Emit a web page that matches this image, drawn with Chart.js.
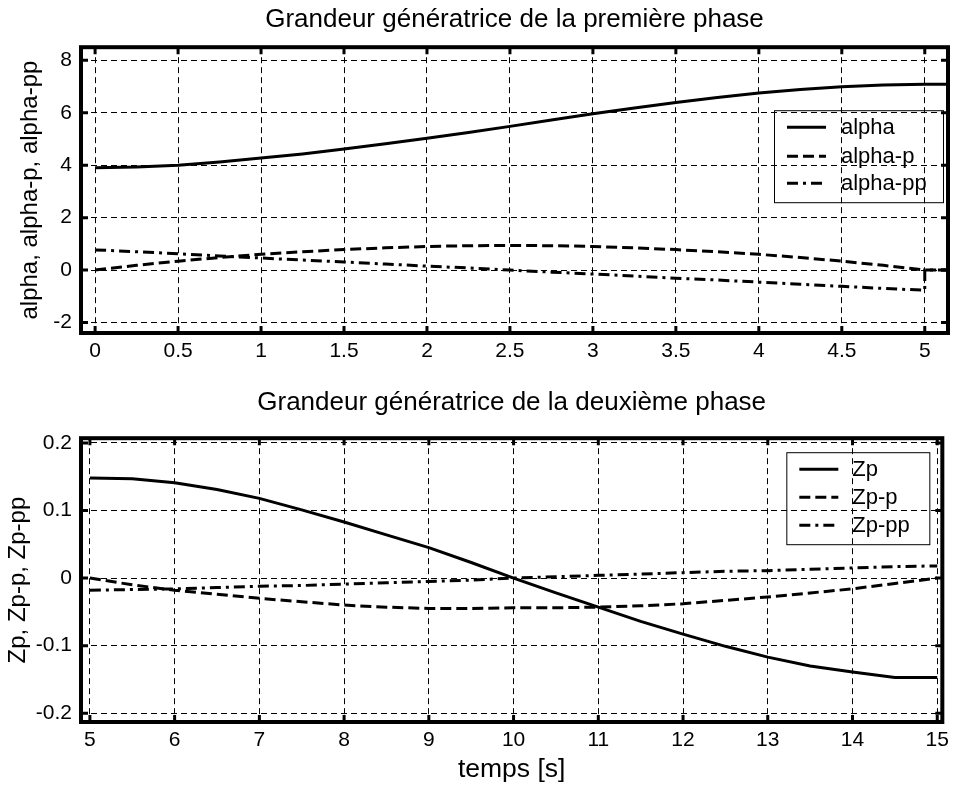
<!DOCTYPE html>
<html>
<head>
<meta charset="utf-8">
<script src="https://cdn.jsdelivr.net/npm/chart.js@4.4.0/dist/chart.umd.min.js"></script>
<style>
  html, body { margin: 0; padding: 0; background: #fff; }
  canvas { position: absolute; left: 0; }
  #c1 { top: 0; }
  #c2 { top: 375px; }
</style>
</head>
<body>
<canvas id="c1" width="955" height="375"></canvas>
<canvas id="c2" width="955" height="414"></canvas>
<script>
// premiere phase
const t1 = [0, 0.25, 0.5, 0.75, 1, 1.25, 1.5, 1.75, 2, 2.25, 2.5, 2.75, 3, 3.25, 3.5, 3.75, 4, 4.25, 4.5, 4.75, 5, 5, 5.2];
const alpha = [3.9, 3.93, 4.0, 4.12, 4.27, 4.43, 4.62, 4.82, 5.03, 5.25, 5.48, 5.72, 5.96, 6.18, 6.39, 6.58, 6.75, 6.89, 6.99, 7.06, 7.09, 7.09, 7.09];
const alphaP = [0.0, 0.18, 0.34, 0.48, 0.6, 0.7, 0.78, 0.85, 0.9, 0.93, 0.94, 0.93, 0.9, 0.85, 0.78, 0.7, 0.6, 0.48, 0.34, 0.18, 0.0, 0.0, 0.0];
const alphaPP = [0.77, 0.7, 0.62, 0.54, 0.46, 0.38, 0.31, 0.23, 0.15, 0.08, 0.0, -0.08, -0.15, -0.23, -0.31, -0.38, -0.46, -0.54, -0.62, -0.7, -0.77, 0.0, 0.0];

// deuxieme phase
const t2 = [5, 5.5, 6, 6.5, 7, 7.5, 8, 8.5, 9, 9.5, 10, 10.5, 11, 11.5, 12, 12.5, 13, 13.5, 14, 14.5, 15];
const zp = [0.148, 0.147, 0.141, 0.131, 0.118, 0.101, 0.083, 0.064, 0.045, 0.023, 0.0, -0.022, -0.043, -0.064, -0.083, -0.101, -0.117, -0.13, -0.139, -0.147, -0.147];
const zpP = [0.0, -0.01, -0.018, -0.024, -0.03, -0.035, -0.04, -0.043, -0.045, -0.045, -0.044, -0.044, -0.043, -0.041, -0.038, -0.033, -0.028, -0.022, -0.016, -0.008, 0.0];
const zpPP = [-0.018, -0.017, -0.016, -0.014, -0.012, -0.011, -0.009, -0.007, -0.005, -0.003, 0.0, 0.002, 0.004, 0.006, 0.008, 0.01, 0.011, 0.013, 0.015, 0.017, 0.018];

const xTicks1 = [0, 0.5, 1, 1.5, 2, 2.5, 3, 3.5, 4, 4.5, 5];
const yTicks1 = [-2, 0, 2, 4, 6, 8];
const xTicks2 = [5, 6, 7, 8, 9, 10, 11, 12, 13, 14, 15];
const yTicks2 = [-0.2, -0.1, 0, 0.1, 0.2];

const FONT = "'Liberation Sans', Arial, sans-serif";
const SOLID = [], DASH = [11, 5], DASHDOT = [11, 5, 3, 5];

function pts(xs, ys) { return xs.map((x, i) => ({ x: x, y: ys[i] })); }

function series(label, xs, ys, dash) {
  return {
    label: label, data: pts(xs, ys),
    borderColor: '#000', borderWidth: 3, borderDash: dash,
    pointRadius: 0, fill: false, tension: 0
  };
}

// cadre, graduations internes et legende
const frame = {
  id: 'frame',
  afterDatasetsDraw(chart, args, o) {
    const { ctx, chartArea: a, scales: { x, y } } = chart;
    ctx.save();
    ctx.strokeStyle = '#000';
    ctx.lineWidth = 3;
    ctx.setLineDash([]);
    ctx.beginPath();
    x.ticks.forEach(t => {
      const p = x.getPixelForValue(t.value);
      ctx.moveTo(p, a.top); ctx.lineTo(p, a.top + 7);
      ctx.moveTo(p, a.bottom); ctx.lineTo(p, a.bottom - 7);
    });
    y.ticks.forEach(t => {
      const p = y.getPixelForValue(t.value);
      ctx.moveTo(a.left, p); ctx.lineTo(a.left + 7, p);
      ctx.moveTo(a.right, p); ctx.lineTo(a.right - 7, p);
    });
    ctx.stroke();
    ctx.lineWidth = 4;
    ctx.strokeRect(a.left, a.top, a.right - a.left, a.bottom - a.top);

    const bx = a.right - o.right - o.w, by = a.top + o.top;
    ctx.lineWidth = 1;
    ctx.strokeRect(bx + 0.5, by + 0.5, o.w, o.h);
    ctx.font = '22px ' + FONT;
    ctx.fillStyle = '#000';
    ctx.textBaseline = 'middle';
    chart.data.datasets.forEach((d, i) => {
      const ry = by + o.rows[i];
      ctx.lineWidth = 3;
      ctx.setLineDash(d.borderDash);
      ctx.beginPath();
      ctx.moveTo(bx + o.lineX, ry); ctx.lineTo(bx + o.lineX + 39, ry);
      ctx.stroke();
      ctx.setLineDash([]);
      ctx.fillText(d.label, bx + o.textX, ry + 1);
    });
    ctx.restore();
  }
};

function axes(xMin, xMax, xt, yMin, yMax, yt, yTitle, yPad, xTitle, xH) {
  const grid = { color: '#000', lineWidth: 1, drawTicks: false };
  const border = { display: false, dash: [6, 4] };
  const ticks = { color: '#000', font: { family: FONT, size: 21 }, callback: v => String(v) };
  return {
    x: {
      type: 'linear', min: xMin, max: xMax, grid: grid, border: border,
      ticks: Object.assign({ padding: 6, maxRotation: 0 }, ticks),
      afterBuildTicks: s => { s.ticks = xt.map(v => ({ value: v })); },
      afterFit: s => { s.height = xH; },
      title: { display: !!xTitle, text: xTitle, color: '#000', font: { family: FONT, size: 26.5 }, padding: { top: 0, bottom: 3 } }
    },
    y: {
      type: 'linear', min: yMin, max: yMax, grid: grid, border: border,
      ticks: Object.assign({ padding: 9 }, ticks),
      afterBuildTicks: s => { s.ticks = yt.map(v => ({ value: v })); },
      afterFit: s => { s.width = 81; },
      title: { display: true, text: yTitle, color: '#000', font: { family: FONT, size: 24 }, padding: { top: yPad, bottom: 0 } }
    }
  };
}

function titleOpts(text, top, bottom) {
  return {
    display: true, text: text, color: '#000', fullSize: false,
    font: { family: FONT, size: 26, weight: 'normal' },
    padding: { top: top, bottom: bottom }
  };
}

new Chart(document.getElementById('c1'), {
  type: 'line',
  data: {
    datasets: [
      series('alpha', t1, alpha, SOLID),
      series('alpha-p', t1, alphaP, DASH),
      series('alpha-pp', t1, alphaPP, DASHDOT)
    ]
  },
  options: {
    responsive: false, animation: false,
    layout: { padding: { left: 0, right: 7, top: 0, bottom: 0 } },
    scales: axes(-0.085, 5.14, xTicks1, -2.4, 8.5, yTicks1, 'alpha, alpha-p, alpha-pp', 16, '', 42),
    plugins: {
      legend: { display: false },
      tooltip: { enabled: false },
      title: titleOpts('Grandeur génératrice de la première phase', 4, 12),
      frame: { right: 5, top: 63, w: 169, h: 92, lineX: 13, textX: 67, rows: [17, 46, 73] }
    }
  },
  plugins: [frame]
});

new Chart(document.getElementById('c2'), {
  type: 'line',
  data: {
    datasets: [
      series('Zp', t2, zp, SOLID),
      series('Zp-p', t2, zpP, DASH),
      series('Zp-pp', t2, zpPP, DASHDOT)
    ]
  },
  options: {
    responsive: false, animation: false,
    layout: { padding: { left: 0, right: 7, top: 0, bottom: 0 } },
    scales: axes(4.895, 15.06, xTicks2, -0.213, 0.207, yTicks2, 'Zp, Zp-p, Zp-pp', 4, 'temps [s]', 67),
    plugins: {
      legend: { display: false },
      tooltip: { enabled: false },
      title: titleOpts('Grandeur génératrice de la deuxième phase', 12, 20),
      frame: { right: 13, top: 14, w: 143, h: 92, lineX: 13, textX: 66, rows: [17, 45, 73] }
    }
  },
  plugins: [frame]
});
</script>
</body>
</html>
